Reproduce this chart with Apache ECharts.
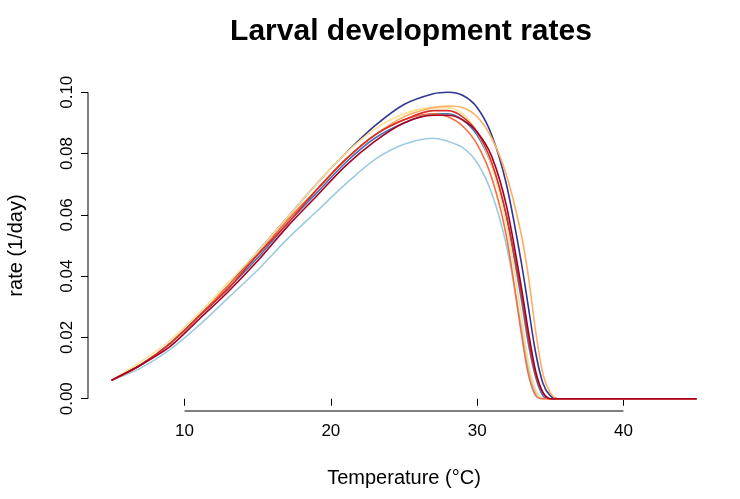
<!DOCTYPE html>
<html><head><meta charset="utf-8">
<script src="https://cdn.jsdelivr.net/npm/echarts@6/dist/echarts.min.js"></script>
<style>html,body{margin:0;padding:0;background:#fff}#c{width:740px;height:499px}</style>
</head><body><div id="c"></div>
<script>
const temps = [5,7,9,11,13,15,17,19,21,23,25,27,28,29,30,31,32,33,33.5,34,34.5,35,35.5,36,45];
const navy      = [0.006,0.011,0.018,0.027,0.037,0.048,0.059,0.070,0.080,0.089,0.096,0.0995,0.100,0.099,0.095,0.086,0.070,0.045,0.030,0.015,0.005,0.001,0,0,0];
const blue      = [0.006,0.011,0.018,0.027,0.036,0.046,0.057,0.067,0.077,0.085,0.090,0.093,0.093,0.091,0.086,0.076,0.059,0.033,0.018,0.007,0.001,0,0,0,0];
const lightblue = [0.006,0.010,0.016,0.024,0.033,0.042,0.052,0.061,0.070,0.078,0.083,0.085,0.084,0.082,0.077,0.067,0.050,0.024,0.010,0.002,0,0,0,0,0];
const yellow    = [0.006,0.012,0.019,0.028,0.038,0.048,0.059,0.070,0.080,0.088,0.093,0.095,0.095,0.093,0.087,0.076,0.057,0.028,0.012,0.003,0,0,0,0,0];
const orange    = [0.006,0.011,0.018,0.027,0.037,0.047,0.058,0.068,0.078,0.086,0.092,0.095,0.0955,0.095,0.092,0.085,0.073,0.054,0.040,0.022,0.008,0.002,0,0,0];
const orangered = [0.006,0.011,0.018,0.027,0.037,0.047,0.058,0.068,0.078,0.086,0.091,0.093,0.092,0.089,0.083,0.072,0.053,0.022,0.008,0.001,0,0,0,0,0];
const red       = [0.006,0.011,0.018,0.027,0.036,0.047,0.057,0.068,0.078,0.086,0.091,0.094,0.094,0.092,0.087,0.077,0.060,0.035,0.020,0.008,0.002,0,0,0,0];
const darkred   = [0.006,0.011,0.017,0.026,0.035,0.045,0.056,0.066,0.076,0.084,0.090,0.0925,0.0925,0.091,0.087,0.079,0.063,0.037,0.022,0.009,0.002,0,0,0,0];
const xTicks = [10,20,30,40];
const yTicks = [0,0.02,0.04,0.06,0.08,0.1];

const seriesList = [
  [navy,'#313695'],[blue,'#4575b4'],[lightblue,'#9ecae1'],[yellow,'#fee090'],
  [orange,'#fdae61'],[orangered,'#f46d43'],[red,'#d73027'],[darkred,'#a50026']
];
const F = 'Liberation Sans, Arial, sans-serif';
const chart = echarts.init(document.getElementById('c'));
chart.setOption({
  animation:false,
  title:{text:'Larval development rates',left:406,top:12,textAlign:'center',
    textStyle:{fontFamily:F,fontSize:30,fontWeight:'bold',color:'#000'}},
  grid:{left:88,right:20,top:80,bottom:88,outerBoundsMode:'none',containLabel:false},
  xAxis:{type:'value',min:3.4,max:46.6,
    name:'Temperature (°C)',nameLocation:'middle',nameGap:57,
    nameTextStyle:{fontFamily:F,fontSize:20,color:'#000'},
    axisLine:{show:false},splitLine:{show:false},
    axisTick:{show:true,length:7,customValues:xTicks,lineStyle:{color:'#000'}},
    axisLabel:{customValues:xTicks,fontFamily:F,fontSize:17,color:'#000',margin:12}},
  yAxis:{type:'value',min:-0.004,max:0.104,
    name:'rate (1/day)',nameLocation:'middle',nameGap:62,
    nameTextStyle:{fontFamily:F,fontSize:20,color:'#000'},
    axisLine:{show:false},splitLine:{show:false},
    axisTick:{show:true,length:7,customValues:yTicks,lineStyle:{color:'#000'}},
    axisLabel:{customValues:yTicks,rotate:90,fontFamily:F,fontSize:17,color:'#000',margin:12,
      formatter:v=>v.toFixed(2)}},
  series:seriesList.map(([d,c])=>({type:'line',data:temps.map((t,i)=>[t,d[i]]),
    smooth:0.3,showSymbol:false,lineStyle:{color:c,width:1.6}}))
});
const a = chart.convertToPixel({gridIndex:0},[10,-0.004]);
const b = chart.convertToPixel({gridIndex:0},[40,-0.004]);
const p0 = chart.convertToPixel({gridIndex:0},[3.4,0]);
const p1 = chart.convertToPixel({gridIndex:0},[3.4,0.1]);
chart.setOption({graphic:[
  {type:'line',shape:{x1:a[0],y1:a[1],x2:b[0],y2:b[1]},style:{stroke:'#000',lineWidth:1}},
  {type:'line',shape:{x1:p0[0],y1:p0[1],x2:p1[0],y2:p1[1]},style:{stroke:'#000',lineWidth:1}}
]});
</script></body></html>
